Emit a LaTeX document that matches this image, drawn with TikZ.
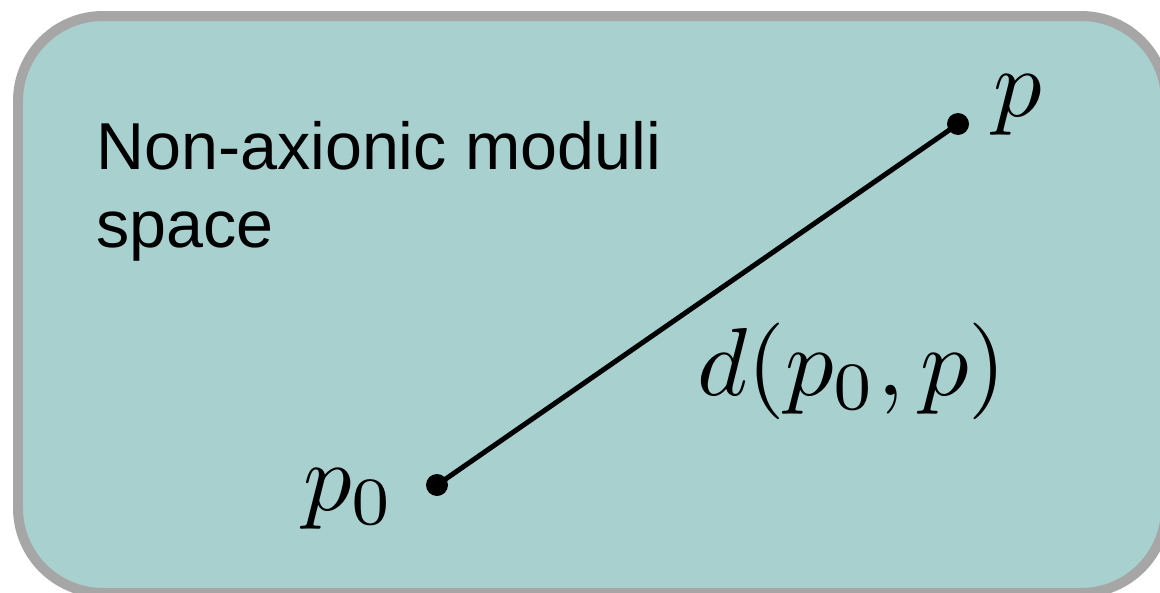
\documentclass[tikz,border=0pt]{standalone}
\usepackage{fontspec}
\newfontfamily\labelfont{Liberation Sans}
\definecolor{modfill}{RGB}{168,208,207}
\definecolor{modedge}{RGB}{166,166,166}
\newcommand{\bigmath}[1]{\scalebox{5.5}{$#1$}}
\tikzset{
  pt/.style={circle,fill=black,inner sep=0pt,minimum size=0.44cm},
  mlabel/.style={inner sep=0pt,anchor=base west},
}
\begin{document}
\begin{tikzpicture}[x=0.02cm,y=-0.02cm]
\useasboundingbox (0,0) rectangle (1160,592);
\draw[modedge,fill=modfill,line width=0.2cm,rounded corners=1.7cm] (18,16) rectangle (1166,593);
\node[inner sep=0pt,anchor=base west,align=left,font=\labelfont\fontsize{37.8}{44.3}\selectfont] (title) at (96,247) {Non-axionic moduli\\space};
\node[pt] (p0) at (437,485) {};
\node[pt] (p) at (958,124) {};
\draw[line width=0.1cm] (p0.center) -- (p.center);
\node[mlabel] (p0lbl) at (303,510) {\bigmath{p_0}};
\node[mlabel] (plbl) at (993,116) {\bigmath{p}};
\node[mlabel] (dist) at (697,395) {\bigmath{d(p_0,p)}};
\end{tikzpicture}
\end{document}
